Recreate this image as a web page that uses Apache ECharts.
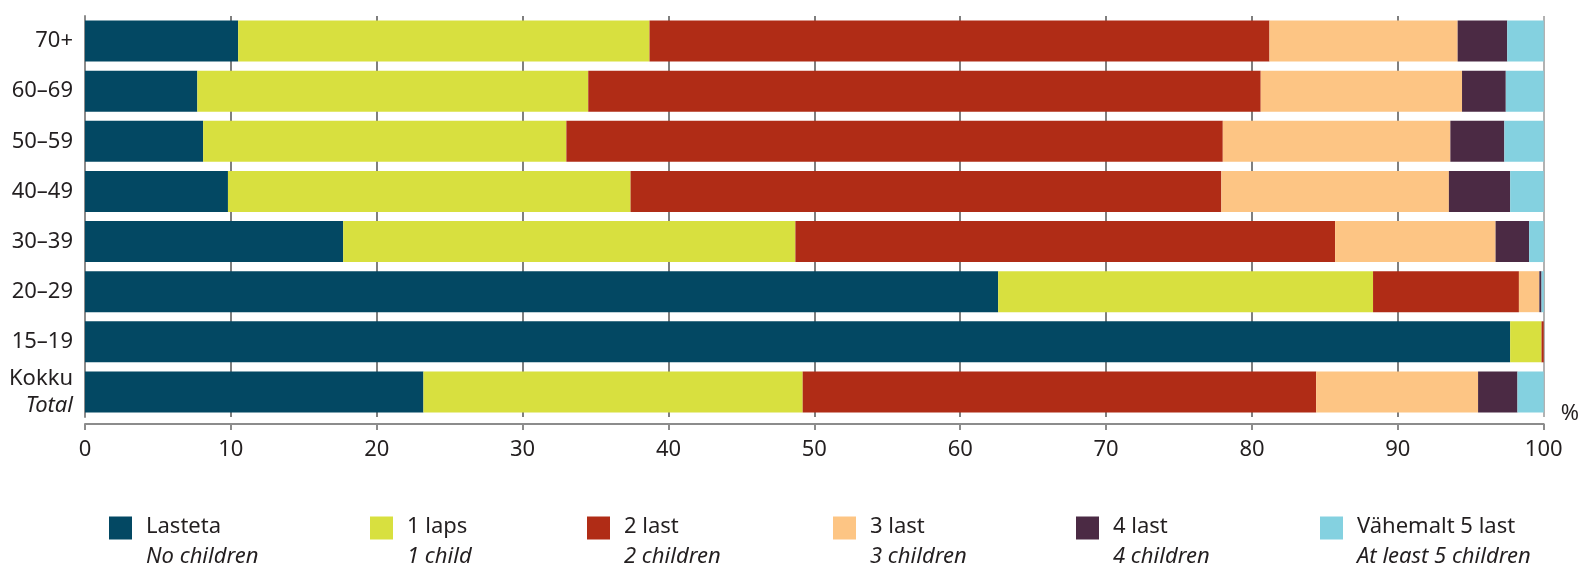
<!DOCTYPE html>
<html style="height: 100%">
<head>
    <meta charset="utf-8">
    <title>Lapsed vanuserühmade kaupa</title>
    <script src="https://cdn.jsdelivr.net/npm/echarts@6/dist/echarts.min.js"></script>
</head>
<body style="height: 100%; margin: 0; background: #fff">
    <div id="main" style="width: 1582px; height: 566px"></div>
    <script type="text/javascript">
        // vanuserühmad (ülevalt alla)
        var categories = ['70+', '60–69', '50–59', '40–49', '30–39', '20–29', '15–19', 'Kokku'];

        var seriesNames = ['Lasteta', '1 laps', '2 last', '3 last', '4 last', 'Vähemalt 5 last'];
        var seriesNamesEn = ['No children', '1 child', '2 children', '3 children', '4 children', 'At least 5 children'];

        // osakaal, %
        var noChildren    = [10.5, 7.7, 8.1, 9.8, 17.7, 62.6, 97.7, 23.2];
        var oneChild      = [28.2, 26.8, 24.9, 27.6, 31.0, 25.7, 2.15, 26.0];
        var twoChildren   = [42.5, 46.1, 45.0, 40.5, 37.0, 10.0, 0.15, 35.2];
        var threeChildren = [12.9, 13.8, 15.6, 15.6, 11.0, 1.4, 0, 11.1];
        var fourChildren  = [3.4, 3.0, 3.7, 4.2, 2.3, 0.15, 0, 2.7];
        var fivePlus      = [2.5, 2.6, 2.7, 2.3, 1.0, 0.15, 0, 1.8];

        var seriesData = [noChildren, oneChild, twoChildren, threeChildren, fourChildren, fivePlus];
        var colors = ['#034863', '#d8e03f', '#b02c16', '#fdc584', '#4b2a44', '#84d1e0'];
        var legendLeft = [109, 370, 587, 833, 1076, 1320];

        var font = '"Noto Sans", sans-serif';
        var textColor = '#231f20';

        var myChart = echarts.init(document.getElementById('main'));

        var legends = seriesNames.map(function (name, i) {
            return {
                data: [name],
                left: legendLeft[i],
                top: 516,
                padding: 0,
                icon: 'rect',
                itemWidth: 23,
                itemHeight: 23,
                selectedMode: false,
                formatter: function (n) {
                    return '{a|' + n + '}\n{b|' + seriesNamesEn[seriesNames.indexOf(n)] + '}';
                },
                textStyle: {
                    padding: [28, 0, 0, 9],
                    rich: {
                        a: { fontFamily: font, fontSize: 22, lineHeight: 30, color: textColor },
                        b: { fontFamily: font, fontSize: 22, lineHeight: 30, color: textColor, fontStyle: 'italic' }
                    }
                }
            };
        });

        var option = {
            animation: false,
            color: colors,
            legend: legends,
            grid: {
                left: 85,
                right: 38,
                top: 16,
                bottom: 149
            },
            xAxis: {
                type: 'value',
                min: 0,
                max: 100,
                interval: 10,
                offset: 7,
                name: '%',
                nameLocation: 'end',
                nameGap: 17,
                nameTextStyle: {
                    fontFamily: font,
                    fontSize: 22,
                    color: textColor,
                    verticalAlign: 'bottom',
                    padding: [0, 0, -1, 0]
                },
                axisLine: { show: true, lineStyle: { color: '#8c8c8c', width: 2 } },
                axisTick: { show: true, length: 6, lineStyle: { color: '#8c8c8c', width: 2 } },
                axisLabel: { fontFamily: font, fontSize: 22, color: textColor, margin: 15 },
                splitLine: {
                    show: true,
                    lineStyle: {
                        color: ['#8c8c8c', '#555', '#555', '#555', '#555', '#555', '#555', '#555', '#555', '#555', '#999'],
                        width: 1.5
                    }
                }
            },
            yAxis: {
                type: 'category',
                inverse: true,
                data: categories,
                axisLine: { show: true, lineStyle: { color: '#8c8c8c', width: 2 } },
                axisTick: { show: false },
                axisLabel: {
                    fontFamily: font,
                    fontSize: 22,
                    color: textColor,
                    margin: 12,
                    formatter: function (v) {
                        return v === 'Kokku' ? '{r|Kokku}\n{i|Total}' : v;
                    },
                    rich: {
                        r: { fontFamily: font, fontSize: 22, lineHeight: 27, color: textColor },
                        i: { fontFamily: font, fontSize: 22, lineHeight: 27, color: textColor, fontStyle: 'italic' }
                    }
                }
            },
            series: seriesNames.map(function (name, i) {
                return {
                    name: name,
                    type: 'bar',
                    stack: 'total',
                    barWidth: 41,
                    data: seriesData[i]
                };
            })
        };

        myChart.setOption(option);
    </script>
</body>
</html>
